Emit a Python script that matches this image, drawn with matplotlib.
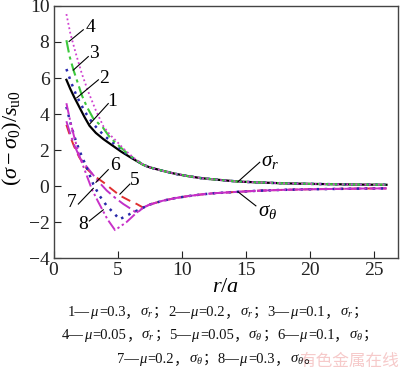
import matplotlib
matplotlib.use('Agg')
import matplotlib.pyplot as plt

plt.rcParams['font.family'] = 'Liberation Serif'
plt.rcParams['mathtext.fontset'] = 'custom'
plt.rcParams['mathtext.rm'] = 'Liberation Serif'
plt.rcParams['mathtext.it'] = 'Liberation Serif:italic'
plt.rcParams['mathtext.bf'] = 'Liberation Serif:bold'

# elastic zone (all curves share it)
r_el = [7.0, 7.5, 8.5, 9.5, 10.5, 11.5, 12.5, 14.4, 16, 18, 20, 22, 24, 26]
sr_el = [1.18, 1.04, 0.85, 0.68, 0.55, 0.44, 0.37, 0.25, 0.2, 0.15, 0.12, 0.1, 0.08, 0.07]
st_el = [-1.2, -1.03, -0.82, -0.67, -0.56, -0.47, -0.4, -0.32, -0.26, -0.21, -0.18, -0.16, -0.14, -0.13]

# plastic zone, sigma_r (curves 1-4)
r_1 = [1, 1.3, 1.6, 2.0, 2.4, 2.8, 3.3, 3.9, 4.6, 5.3, 6.1]
s_1 = [5.9, 5.4, 4.95, 4.4, 3.85, 3.35, 2.95, 2.6, 2.25, 1.9, 1.55]
r_2 = [1, 1.4, 1.8, 2.2, 2.6, 3.1, 3.6, 4.2, 4.9, 5.6, 6.3]
s_2 = [6.5, 5.7, 5.0, 4.45, 3.95, 3.45, 3.05, 2.65, 2.25, 1.85, 1.5]
r_3 = [1, 1.25, 1.55, 1.9, 2.2, 2.6, 3.1, 3.5, 3.85, 4.4, 5.0, 5.7, 6.3]
s_3 = [8.1, 7.2, 6.45, 5.7, 5.05, 4.4, 3.75, 3.48, 3.25, 2.7, 2.3, 1.85, 1.5]
r_4 = [1, 1.3, 1.7, 2.2, 2.7, 3.3, 3.9, 4.4, 4.9, 5.5, 6.2]
s_4 = [9.55, 8.5, 7.45, 6.25, 5.25, 4.2, 3.3, 2.85, 2.5, 2.05, 1.6]

# plastic zone, sigma_theta (curves 5-8)
r_5 = [1, 1.3, 1.6, 2.0, 2.6, 3.2, 3.9, 4.5, 5.2, 5.9, 6.5]
s_5 = [3.4, 2.75, 2.2, 1.6, 0.95, 0.55, 0.2, -0.15, -0.54, -0.8, -1.0]
r_6 = [1, 1.3, 1.6, 2.0, 2.5, 3.0, 3.5, 4.15, 4.8, 5.45, 6.0, 6.5]
s_6 = [3.6, 2.9, 2.3, 1.65, 1.15, 0.7, 0.25, -0.25, -0.65, -1.0, -1.25, -1.5]
r_7 = [1, 1.3, 1.6, 2.0, 2.3, 2.6, 3.1, 3.6, 4.15, 4.7, 5.15, 6.1]
s_7 = [4.4, 3.55, 2.8, 2.0, 1.5, 1.0, 0.1, -0.55, -1.1, -1.5, -1.85, -1.5]
r_8 = [1, 1.3, 1.6, 2.0, 2.5, 3.0, 3.5, 4.2, 4.8, 5.2, 5.7, 6.5]
s_8 = [4.6, 3.6, 2.75, 1.7, 0.75, -0.2, -0.9, -1.84, -2.45, -2.25, -2.0, -1.47]

mus = ['0.3', '0.2', '0.1', '0.05', '0.05', '0.1', '0.2', '0.3']
comps = ['r', 'r', 'r', 'r', r'\theta', r'\theta', r'\theta', r'\theta']

styles = [
    dict(color='black', ls='-', lw=1.6),
    dict(color='#2b2bb0', ls=(0, (1.0, 2.2)), lw=1.8),
    dict(color='#3cc83c', ls=(0, (6, 2, 1.5, 2)), lw=1.5),
    dict(color='#d040d0', ls=(0, (1, 1.5)), lw=1.3),
    dict(color='#e03030', ls=(0, (5, 3)), lw=1.4),
    dict(color='#c030c8', ls=(0, (7, 2, 1.5, 2)), lw=1.4),
    dict(color='#2828a8', ls=(0, (1.0, 2.2)), lw=1.8),
    dict(color='#c830c8', ls=(0, (6, 1.5, 1.2, 1.5, 1.2, 1.5)), lw=1.4),
]

fig = plt.figure(figsize=(4.0, 3.74), dpi=100)
ax = fig.add_axes([0.134, 0.31, 0.861, 0.674])

curves = [(r_1, s_1, sr_el), (r_2, s_2, sr_el), (r_3, s_3, sr_el), (r_4, s_4, sr_el),
          (r_5, s_5, st_el), (r_6, s_6, st_el), (r_7, s_7, st_el), (r_8, s_8, st_el)]
for (rp, sp, se), st in zip(curves, styles):
    ax.plot(rp + r_el, sp + se, **st)

# numbered labels: (text, text x, text y, line start, line end)
labels = [
    ('1', 4.6, 4.7, (2.84, 3.46), (4.27, 4.58)),
    ('2', 3.98, 5.98, (1.81, 4.9), (3.5, 5.9)),
    ('3', 3.18, 7.37, (1.54, 6.44), (2.71, 7.19)),
    ('4', 2.92, 8.81, (1.21, 8.03), (2.32, 8.68)),
    ('5', 6.35, 0.3, (5.18, -0.45), (5.96, 0.11)),
    ('6', 4.79, 1.13, (3.31, 0.21), (4.27, 0.91)),
    ('7', 1.42, -0.91, (1.93, -1.0), (3.1, -0.13)),
    ('8', 2.32, -2.12, (2.79, -1.94), (3.88, -1.32)),
]
for s, tx, ty, p0, p1 in labels:
    ax.plot([p0[0], p1[0]], [p0[1], p1[1]], color='black', lw=0.8)
    ax.text(tx, ty, s, fontsize=14, ha='center', va='center')

ax.plot([14.4, 16.1], [0.24, 1.32], color='black', lw=0.8)
ax.text(16.2, 1.35, r'$\sigma_r$', fontsize=15, ha='left', va='center')
ax.plot([14.4, 15.8], [-0.32, -1.1], color='black', lw=0.8)
ax.text(16.0, -1.4, r'$\sigma_\theta$', fontsize=15, ha='left', va='center')

ax.set_xlim(0, 26.9)
ax.set_ylim(-4, 10)
ax.set_xticks([0, 5, 10, 15, 20, 25])
ax.set_yticks([-4, -2, 0, 2, 4, 6, 8, 10])
ax.tick_params(direction='in', length=5, width=0.8, labelsize=14, colors='#222222', pad=3)
for sp in ax.spines.values():
    sp.set_color('#444444')
    sp.set_linewidth(1.0)
ax.set_xlabel(r'$r/a$', fontsize=16, labelpad=-1)
ax.set_ylabel(r'$(\sigma-\sigma_0)/s_{\mathrm{u0}}$', fontsize=16)
ax.yaxis.set_label_coords(-0.085, 0.475)

# caption lines, built from pieces in different fonts
renderer = fig.canvas.get_renderer()
W, H = fig.bbox.width, fig.bbox.height


def caption(left_px, base_px, idx, last):
    x = left_px
    parts = []
    for k, i in enumerate(idx):
        end = '。' if (last and k == len(idx) - 1) else '；'
        parts += [(f'{i + 1}—', 'rm'), (r'$\mu$', 'rm'), (f'={mus[i]}', 'rm'),
                  ('，', 'cjk'), (r'$\sigma_{%s}$' % comps[i], 'rm'), (end, 'cjk')]
    for s, kind in parts:
        fam = 'Noto Sans CJK SC' if kind == 'cjk' else 'Liberation Serif'
        t = fig.text(x / W, 1 - base_px / H, s, fontsize=10.5, family=fam,
                     ha='left', va='baseline', color='#111111')
        x += t.get_window_extent(renderer).width


caption(68, 316, [0, 1, 2], False)
caption(62, 339, [3, 4, 5], False)
caption(117, 363, [6, 7], True)

fig.text(0.997, 0.01, '有色金属在线', color='#f6caca', fontsize=12,
         family='Noto Sans CJK SC', ha='right', va='bottom', zorder=0)

fig.savefig('out.png', dpi=100)
